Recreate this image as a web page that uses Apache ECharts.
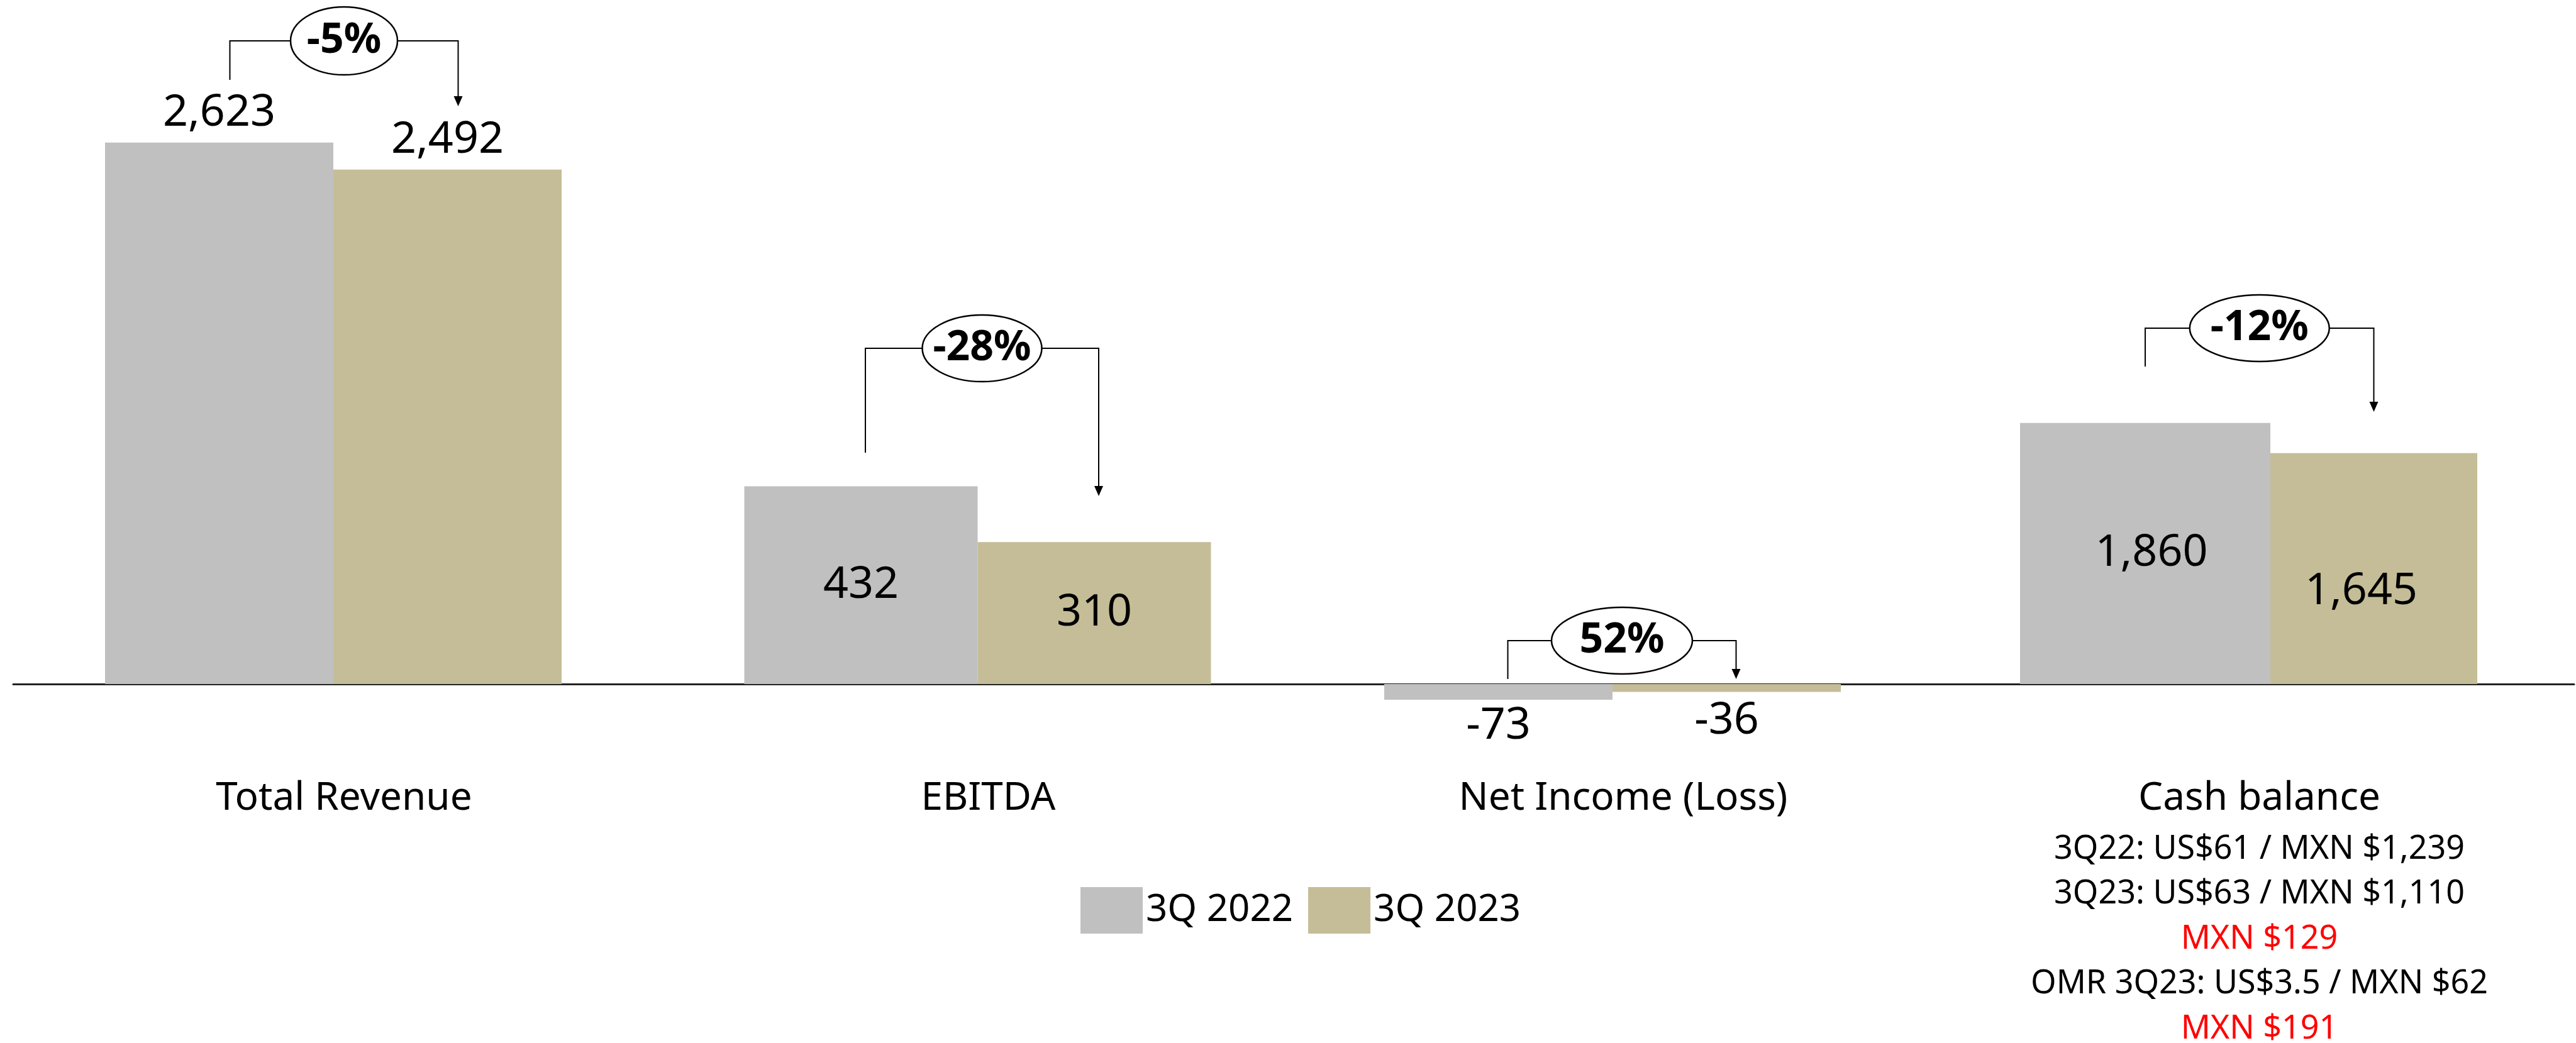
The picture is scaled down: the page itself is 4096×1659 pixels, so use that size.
<!DOCTYPE html>
<html lang="en">
<head>
<meta charset="UTF-8">
<title>3Q 2023 vs 3Q 2022</title>
<style>
  * { margin: 0; padding: 0; }
  body { background: #fff; }
  #chart { width: 4096px; height: 1659px; }
</style>
</head>
<body>
<div id="chart"></div>
<script src="https://cdn.jsdelivr.net/npm/echarts@6/dist/echarts.min.js"></script>
<script>
// data
const categories = ['Total Revenue', 'EBITDA', 'Net Income (Loss)', 'Cash balance'];
const seriesNames = ['3Q 2022', '3Q 2023'];
const values2022 = [2623, 432, -73, 1860];
const values2023 = [2492, 310, -36, 1645];
const changeLabels = ['-5%', '-28%', '52%', '-12%'];
const cashNotes = ['3Q22: US$61 / MXN $1,239', '3Q23: US$63 / MXN $1,110', 'MXN $129',
  'OMR 3Q23: US$3.5 / MXN $62', 'MXN $191'];

// layout / style (each metric drawn on its own scale, like the slide)
const FONT = '"Noto Sans", sans-serif';
const colors = ['#C0C0C0', '#C4BD97'];
const noteStyle = ['n', 'n', 'r', 'n', 'r'];
const axisMax = [3009, 1357, 2872, 4425];
const belowRatio = 112 / 988;
const grids = [
  { left: 21, width: 1018 },
  { left: 1039, width: 1031 },
  { left: 2070, width: 988 },
  { left: 3058, width: 1035 }
];
const barWidths = [[363, 363], [371, 371], [363, 363], [398, 329]];
const labelPos = ['top', 'inside', 'bottom', 'inside'];
const labelDist = [[12, 12], [5, 5], [7, 12], [5, 5]];
const labelOffset = [[[0, 0], [0, 0]], [[0, 0], [0, 0]], [[0, 0], [0, 0]], [[10, 0], [-20, 37]]];
// bracket: y of the horizontal run, end of left leg, arrow tip, ellipse radii
const brackets = [
  { y: 65, end: 127, tip: 169, rx: 85, ry: 54 },
  { y: 554, end: 720, tip: 789, rx: 95, ry: 53 },
  { y: 1019, end: 1080, tip: 1080, rx: 112, ry: 53 },
  { y: 522, end: 583, tip: 655, rx: 111, ry: 53 }
];
const bracketShift = [17, 7, 15, 0];

const chart = echarts.init(document.getElementById('chart'));

const fmt = v => v.toLocaleString('en-US');

const series = [];
categories.forEach((cat, i) => {
  [values2022, values2023].forEach((vals, k) => {
    series.push({
      type: 'bar',
      name: seriesNames[k],
      xAxisIndex: i,
      yAxisIndex: i,
      data: [vals[i]],
      barWidth: barWidths[i][k],
      barGap: '0%',
      itemStyle: { color: colors[k] },
      label: {
        show: true,
        position: labelPos[i],
        distance: labelDist[i][k],
        offset: labelOffset[i][k],
        formatter: p => fmt(p.value),
        fontFamily: FONT,
        fontSize: 70,
        color: '#000'
      }
    });
  });
});

const option = {
  animation: false,
  backgroundColor: '#fff',
  grid: grids.map(g => ({
    left: g.left, width: g.width, top: 100, height: 1100,
    outerBoundsMode: 'none'
  })),
  xAxis: categories.map((cat, i) => ({
    type: 'category',
    gridIndex: i,
    data: [cat],
    axisLine: { onZero: true, lineStyle: { color: '#222', width: 3 } },
    axisTick: { show: false },
    axisLabel: {
      margin: 25,
      padding: [0, 0, 0, 34],
      formatter: v => i === 3
        ? ['{t|' + v + '}'].concat(cashNotes.map((s, k) => '{' + noteStyle[k] + '|' + s + '}')).join('\n')
        : '{t|' + v + '}',
      rich: {
        t: { fontFamily: FONT, fontSize: 62, lineHeight: 90, color: '#000' },
        n: { fontFamily: FONT, fontSize: 52, lineHeight: 71.5, color: '#000' },
        r: { fontFamily: FONT, fontSize: 52, lineHeight: 71.5, color: '#FF0000' }
      }
    }
  })),
  yAxis: categories.map((cat, i) => ({
    type: 'value',
    gridIndex: i,
    show: false,
    min: -axisMax[i] * belowRatio,
    max: axisMax[i],
    splitLine: { show: false }
  })),
  legend: {
    data: seriesNames,
    left: 1718,
    top: 1411,
    padding: 0,
    icon: 'rect',
    itemWidth: 99,
    itemHeight: 74,
    itemGap: 24,
    textStyle: { fontFamily: FONT, fontSize: 60, color: '#000' }
  },
  series: series
};

chart.setOption(option);

// change brackets with the % bubble, hooked to the bar centres
const els = [];
categories.forEach((cat, i) => {
  const cx = chart.convertToPixel({ xAxisIndex: i }, cat);
  const [wa, wb] = barWidths[i];
  const start = cx - (wa + wb) / 2;
  const xa = start + wa / 2 + bracketShift[i];
  const xb = start + wa + wb / 2 + bracketShift[i];
  const b = brackets[i];
  const mid = (xa + xb) / 2;
  els.push({
    type: 'polyline', z: 10,
    shape: { points: [[xa, b.end], [xa, b.y], [xb, b.y], [xb, b.tip - 15]] },
    style: { stroke: '#000', lineWidth: 2, fill: null }
  });
  els.push({
    type: 'polygon', z: 10,
    shape: { points: [[xb - 7, b.tip - 16], [xb + 7, b.tip - 16], [xb, b.tip]] },
    style: { fill: '#000' }
  });
  els.push({
    type: 'ellipse', z: 11,
    shape: { cx: mid, cy: b.y, rx: b.rx, ry: b.ry },
    style: { fill: '#fff', stroke: '#000', lineWidth: 2.5 }
  });
  els.push({
    type: 'text', z: 12,
    x: mid, y: b.y,
    style: {
      text: changeLabels[i],
      font: 'bold 66px ' + FONT,
      fill: '#000',
      align: 'center', verticalAlign: 'middle',
      textAlign: 'center', textVerticalAlign: 'middle'
    }
  });
});
chart.setOption({ graphic: { elements: els } });
</script>
</body>
</html>
